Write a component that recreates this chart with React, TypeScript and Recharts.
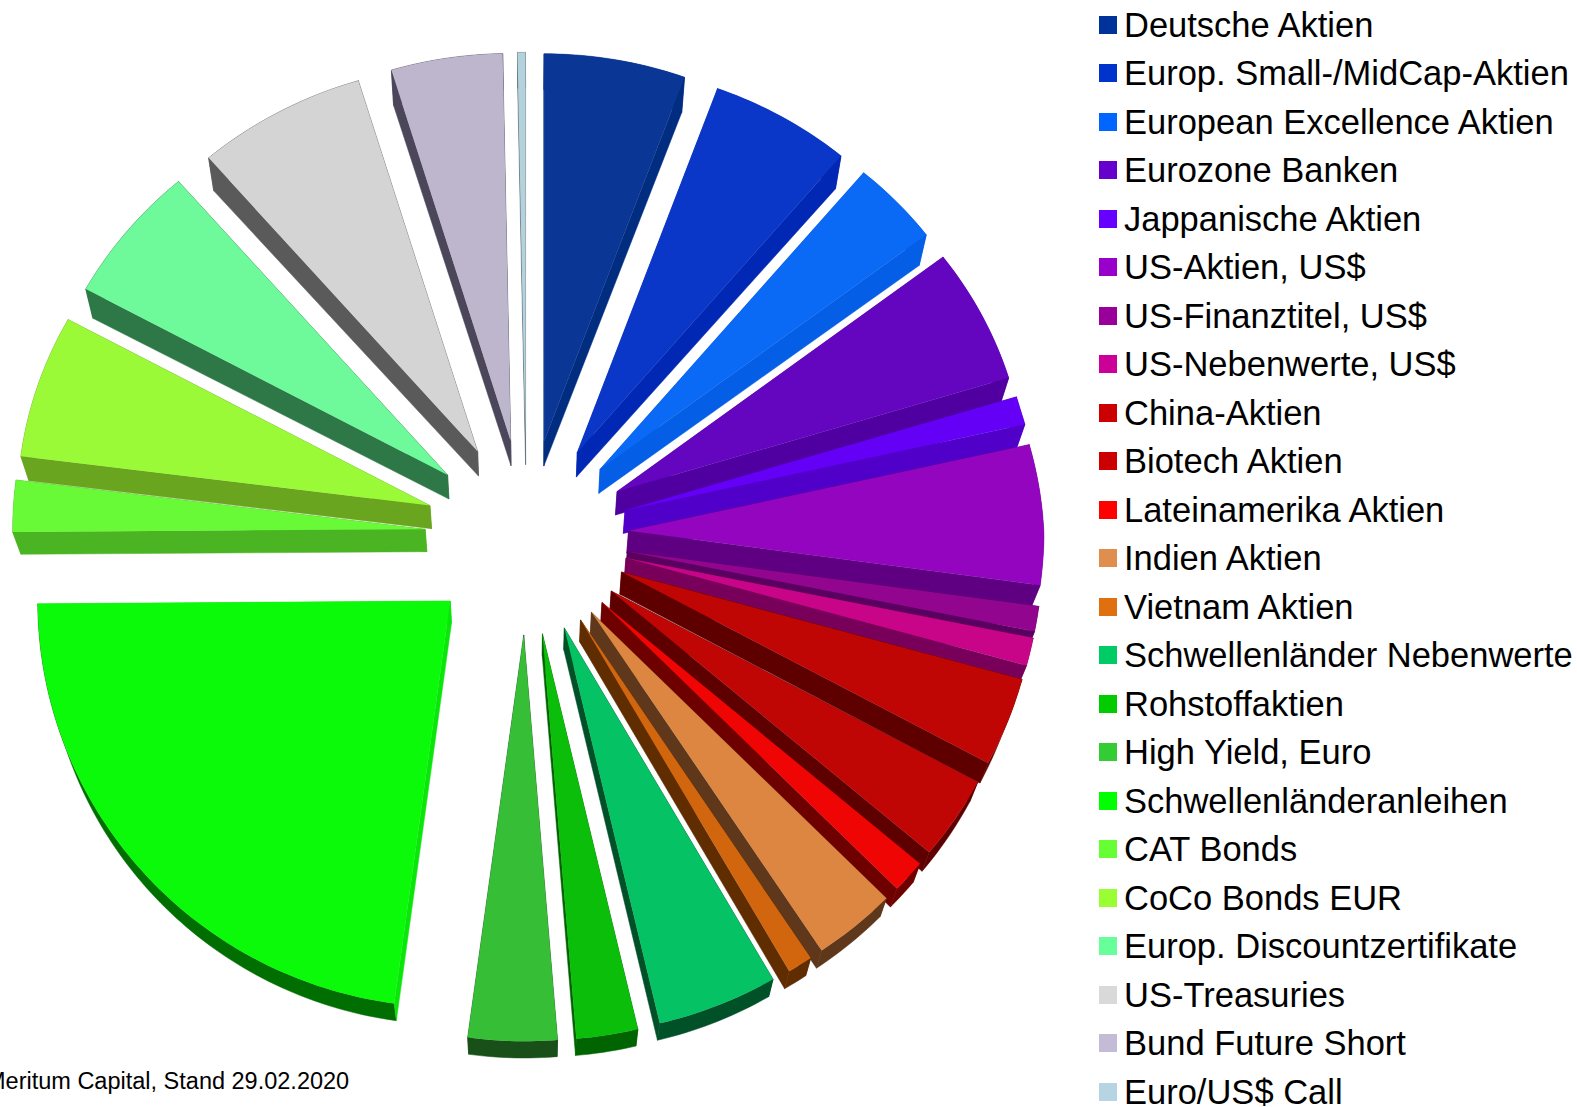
import * as React from 'react';
import { Legend, Pie, PieChart } from 'recharts';

const names = [
  'Deutsche Aktien',
  'Europ. Small-/MidCap-Aktien',
  'European Excellence Aktien',
  'Eurozone Banken',
  'Jappanische Aktien',
  'US-Aktien, US$',
  'US-Finanztitel, US$',
  'US-Nebenwerte, US$',
  'China-Aktien',
  'Biotech Aktien',
  'Lateinamerika Aktien',
  'Indien Aktien',
  'Vietnam Aktien',
  'Schwellenländer Nebenwerte',
  'Rohstoffaktien',
  'High Yield, Euro',
  'Schwellenländeranleihen',
  'CAT Bonds',
  'CoCo Bonds EUR',
  'Europ. Discountzertifikate',
  'US-Treasuries',
  'Bund Future Short',
  'Euro/US$ Call',
];

// percent of the fund
const weights = [
  5.56, 5.56, 3.53, 5.61, 1.17, 5.72, 1.0, 1.11, 3.53, 3.33, 1.31, 3.22, 0.97,
  4.69, 2.39, 3.47, 22.72, 2.14, 5.94, 5.72, 6.64, 4.36, 0.31,
];

const legendColors = [
  '#003399', '#0033cc', '#0066ff', '#6600cc', '#6600ff', '#9900cc', '#990099',
  '#cc0099', '#cc0000', '#cc0000', '#ff0000', '#e08e4e', '#e0700f', '#00cc66',
  '#00cc00', '#33cc33', '#00ff00', '#66ff33', '#99ff33', '#66ff99', '#d9d9d9',
  '#c4bcd6', '#b7d4e2',
];

const faceColors = [
  '#0a3796', '#0a37c8', '#0a69f5', '#6405c0', '#6400f5', '#9405c0', '#91058f',
  '#c80589', '#c00505', '#c00505', '#f00505', '#dc8641', '#d2660f', '#05c364',
  '#0abe0a', '#37be37', '#0afa0a', '#69fa37', '#9bfa37', '#6efa9b', '#d4d4d4',
  '#beb6cd', '#b4d2dc',
];

const wallColors = [
  '#002d80', '#0028b4', '#055fe6', '#5000a0', '#5000c8', '#5f0082', '#5a0060',
  '#78005a', '#5f0000', '#5f0000', '#6e0000', '#5f371a', '#5f2d00', '#005028',
  '#006400', '#195019', '#006e00', '#4bb423', '#69a51e', '#2d7846', '#5a5a5a',
  '#4b465a', '#5a6e78',
];

const tableData = names.map((name, i) => ({
  name,
  value: weights[i],
  fill: faceColors[i],
  wall: wallColors[i],
  side: name === 'Schwellenländeranleihen' ? '#0ae60a' : wallColors[i],
}));

const EXPLODE = 101.5;

// the picture is a tilted 3D pie: squash y around the centre, more so above it,
// and the lower right comes out a little wider than the rest
const tilt = (x: number, y: number, cx: number, cy: number): [number, number] => {
  const dx = x - cx;
  const dy = y - cy;
  const wide = dy < 0 ? Math.max(0.995, 1.007 + dy * 0.00009) : 1.007;
  return [cx + (dx > 0 ? dx * wide : dx), cy + (dy < 0 ? dy * 0.939 : dy * 0.985)];
};

// where a point of the top face ends up on the lower face
const drop = ([x, y]: [number, number]): [number, number] => {
  const depth = y < 560 ? 36 - (y - 50) * 0.0283 : 22.5 - (y - 560) * 0.012;
  return [x + (530 - x) * (x > 530 ? 0.018 : 0.016), y + depth];
};

const toPath = (pts: [number, number][]) =>
  'M' + pts.map((p) => `${p[0].toFixed(2)},${p[1].toFixed(2)}`).join('L') + 'Z';

const SliceShape = (props: any) => {
  const { cx, cy, outerRadius, startAngle, endAngle, fill, wall, side } = props;
  const rad = Math.PI / 180;
  const mid = (startAngle + endAngle) / 2;
  const ox = cx + EXPLODE * Math.cos(mid * rad);
  const oy = cy - EXPLODE * Math.sin(mid * rad);

  const apex = tilt(ox, oy, cx, cy);
  const arc: [number, number][] = [];
  const steps = Math.max(2, Math.ceil(Math.abs(startAngle - endAngle)));
  for (let s = 0; s <= steps; s++) {
    const a = startAngle + ((endAngle - startAngle) * s) / steps;
    arc.push(
      tilt(ox + outerRadius * Math.cos(a * rad), oy - outerRadius * Math.sin(a * rad), cx, cy)
    );
  }

  const sideLeft = [apex, arc[0], drop(arc[0]), drop(apex)];
  const sideRight = [apex, arc[steps], drop(arc[steps]), drop(apex)];
  const rim = [...arc, ...[...arc].reverse().map(drop)];

  return (
    <g>
      <path d={toPath(rim)} fill={wall} stroke={wall} strokeWidth={0.5} />
      <path d={toPath(sideLeft)} fill={side} stroke={side} strokeWidth={0.5} />
      <path d={toPath(sideRight)} fill={side} stroke={side} strokeWidth={0.5} />
      <path d={toPath([apex, ...arc])} fill={fill} />
    </g>
  );
};

const LegendRows = ({ payload }: any) => (
  <div style={{ position: 'relative', height: 1106 }}>
    {(payload || []).map((entry: any, i: number) => (
      <div
        key={entry.value}
        style={{
          position: 'absolute',
          top: i * 48.48 + 8,
          left: 0,
          height: 32,
          lineHeight: '32px',
          whiteSpace: 'nowrap',
          fontFamily: '"Liberation Sans", Arial, sans-serif',
          fontSize: 34.5,
          color: '#000',
        }}
      >
        <span
          style={{
            position: 'absolute',
            left: 0,
            top: 7,
            width: 18,
            height: 18,
            background: legendColors[i],
          }}
        />
        <span style={{ marginLeft: 25 }}>{entry.value}</span>
      </div>
    ))}
  </div>
);

const App = () => (
  <div style={{ position: 'absolute', left: 0, top: 0, width: 1577, height: 1107, background: '#fff', overflow: 'hidden' }}>
    <PieChart width={1577} height={1107} margin={{ top: 0, right: 0, bottom: 0, left: 0 }}>
      <Pie
        data={tableData}
        dataKey="value"
        nameKey="name"
        cx={526.5}
        cy={535}
        innerRadius={0}
        outerRadius={412.5}
        startAngle={90}
        endAngle={-270}
        stroke="none"
        isAnimationActive={false}
        shape={SliceShape}
      />
      <Legend
        layout="vertical"
        align="right"
        verticalAlign="top"
        itemSorter={null}
        content={LegendRows}
        wrapperStyle={{ left: 1099, right: 'auto', top: 1, width: 478, height: 1106 }}
      />
      <text
        x={-14}
        y={1089}
        fontFamily='"Liberation Sans", Arial, sans-serif'
        fontSize={23.5}
        fill="#000"
      >
        Meritum Capital, Stand 29.02.2020
      </text>
    </PieChart>
  </div>
);

export default App;
